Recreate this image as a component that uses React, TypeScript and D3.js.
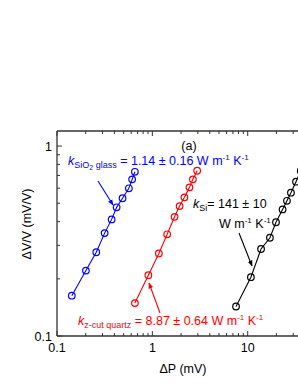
import React from "react";
import * as d3 from "d3";

// ΔP (mV) and ΔV/V (mV/V)
const glassX = [0.143, 0.201, 0.258, 0.316, 0.374, 0.422, 0.487, 0.567, 0.614, 0.656];
const glassY = [0.163, 0.221, 0.276, 0.348, 0.411, 0.476, 0.531, 0.599, 0.668, 0.732];
const quartzX = [0.656, 0.908, 1.17, 1.43, 1.71, 1.93, 2.17, 2.45, 2.66, 2.95];
const quartzY = [0.149, 0.209, 0.272, 0.343, 0.424, 0.483, 0.537, 0.606, 0.668, 0.741];
const siX = [7.54, 10.8, 13.8, 17.1, 19.8, 23.2, 25.8, 28.4, 32.1, 36.0];
const siY = [0.143, 0.204, 0.287, 0.329, 0.397, 0.464, 0.515, 0.568, 0.649, 0.74];

const xTickLabels = ["0.1", "1", "10"];
const yTickLabels = ["0.1", "1"];

const W = 298;
const H = 385;
const left = 57;
const right = 310;
const top = 131;
const bottom = 336;
const font = "'Liberation Sans', Arial, sans-serif";

const App = () => {
  const x = d3.scaleLog().domain([0.1, 45]).range([left, right]);
  const y = d3.scaleLog().domain([0.1, 1.2]).range([bottom, top]);

  const line = d3
    .line<[number, number]>()
    .x((d) => x(d[0]))
    .y((d) => y(d[1]));

  const series = [
    { xs: glassX, ys: glassY, color: "#0000ff" },
    { xs: quartzX, ys: quartzY, color: "#ff0000" },
    { xs: siX, ys: siY, color: "#000000" },
  ];

  const isMajor = (v: number) => Math.abs(Math.log10(v) - Math.round(Math.log10(v))) < 1e-6;

  const arrow = (x1: number, y1: number, x2: number, y2: number, color: string, id: string) => (
    <line x1={x1} y1={y1} x2={x2} y2={y2} stroke={color} strokeWidth={1.1} markerEnd={`url(#${id})`} />
  );

  return (
    <svg width={W} height={H} style={{ position: "absolute", left: 0, top: 0 }} fontFamily={font}>
      <defs>
        {[
          ["ah-b", "#0000ff"],
          ["ah-r", "#ff0000"],
          ["ah-k", "#000000"],
        ].map(([id, c]) => (
          <marker key={id} id={id} viewBox="0 0 10 10" refX="9" refY="5" markerWidth="6" markerHeight="6" orient="auto" markerUnits="userSpaceOnUse">
            <path d="M0,1 L10,5 L0,9 z" fill={c} />
          </marker>
        ))}
      </defs>

      {/* axes frame */}
      <g stroke="#333" strokeWidth={1.3} fill="none">
        <line x1={left} y1={top} x2={left} y2={bottom} />
        <line x1={left} y1={bottom} x2={W + 5} y2={bottom} />
        <line x1={left} y1={top} x2={W + 5} y2={top} />
      </g>

      {/* x ticks, bottom and top, pointing inward */}
      <g stroke="#333" strokeWidth={1}>
        {x.ticks().map((t, i) => {
          const len = isMajor(t) ? 5 : 3;
          return (
            <g key={i}>
              <line x1={x(t)} x2={x(t)} y1={bottom} y2={bottom - len} />
              <line x1={x(t)} x2={x(t)} y1={top} y2={top + len} />
            </g>
          );
        })}
        {y.ticks().map((t, i) => {
          const len = isMajor(t) ? 5 : 3;
          return <line key={i} x1={left} x2={left + len} y1={y(t)} y2={y(t)} />;
        })}
      </g>

      <g fontSize={12.5} fill="#000">
        {[0.1, 1, 10].map((t, i) => (
          <text key={i} x={x(t)} y={bottom + 16} textAnchor="middle">
            {xTickLabels[i]}
          </text>
        ))}
        {[0.1, 1].map((t, i) => (
          <text key={i} x={left - 5} y={y(t) + 4.5} textAnchor="end">
            {yTickLabels[i]}
          </text>
        ))}
        <text x={183} y={373} textAnchor="middle">ΔP (mV)</text>
        <text transform="translate(31,224) rotate(-90)" textAnchor="middle">ΔV/V (mV/V)</text>
        <text x={189} y={150} textAnchor="middle">(a)</text>
      </g>

      {/* data */}
      <g clipPath="url(#none)">
        {series.map((s, si) => {
          const pts = s.xs.map((v, i) => [v, s.ys[i]] as [number, number]);
          return (
            <g key={si}>
              <path d={line(pts) || ""} fill="none" stroke={s.color} strokeWidth={1.1} />
              {pts.map((p, i) => (
                <circle key={i} cx={x(p[0])} cy={y(p[1])} r={3.3} fill="none" stroke={s.color} strokeWidth={1.2} />
              ))}
            </g>
          );
        })}
      </g>

      {/* annotations */}
      {arrow(98, 181, 113, 205, "#0000ff", "ah-b")}
      {arrow(160, 313, 149, 283, "#ff0000", "ah-r")}
      {arrow(239, 233, 252, 266, "#000000", "ah-k")}

      <text x={68} y={165} fontSize={12.5} fill="#0000ff">
        <tspan fontStyle="italic">k</tspan>
        <tspan fontSize={9} dy={3}>SiO</tspan>
        <tspan fontSize={7} dy={2}>2</tspan>
        <tspan fontSize={9} dy={-2}> glass</tspan>
        <tspan dy={-3}> = 1.14 ± 0.16 W m</tspan>
        <tspan fontSize={8} dy={-5}>-1</tspan>
        <tspan dy={5}> K</tspan>
        <tspan fontSize={8} dy={-5}>-1</tspan>
      </text>

      <text x={78} y={325} fontSize={12.5} fill="#ff0000">
        <tspan fontStyle="italic">k</tspan>
        <tspan fontSize={9} dy={3}>z-cut quartz</tspan>
        <tspan dy={-3}> = 8.87 ± 0.64 W m</tspan>
        <tspan fontSize={8} dy={-5}>-1</tspan>
        <tspan dy={5}> K</tspan>
        <tspan fontSize={8} dy={-5}>-1</tspan>
      </text>

      <text x={193} y={208} fontSize={12.5} fill="#000">
        <tspan fontStyle="italic">k</tspan>
        <tspan fontSize={9} dy={3}>Si</tspan>
        <tspan dy={-3}>= 141 ± 10</tspan>
      </text>
      <text x={219} y={228} fontSize={12.5} fill="#000">
        <tspan>W m</tspan>
        <tspan fontSize={8} dy={-5}>-1</tspan>
        <tspan dy={5}> K</tspan>
        <tspan fontSize={8} dy={-5}>-1</tspan>
      </text>
    </svg>
  );
};

export default App;
